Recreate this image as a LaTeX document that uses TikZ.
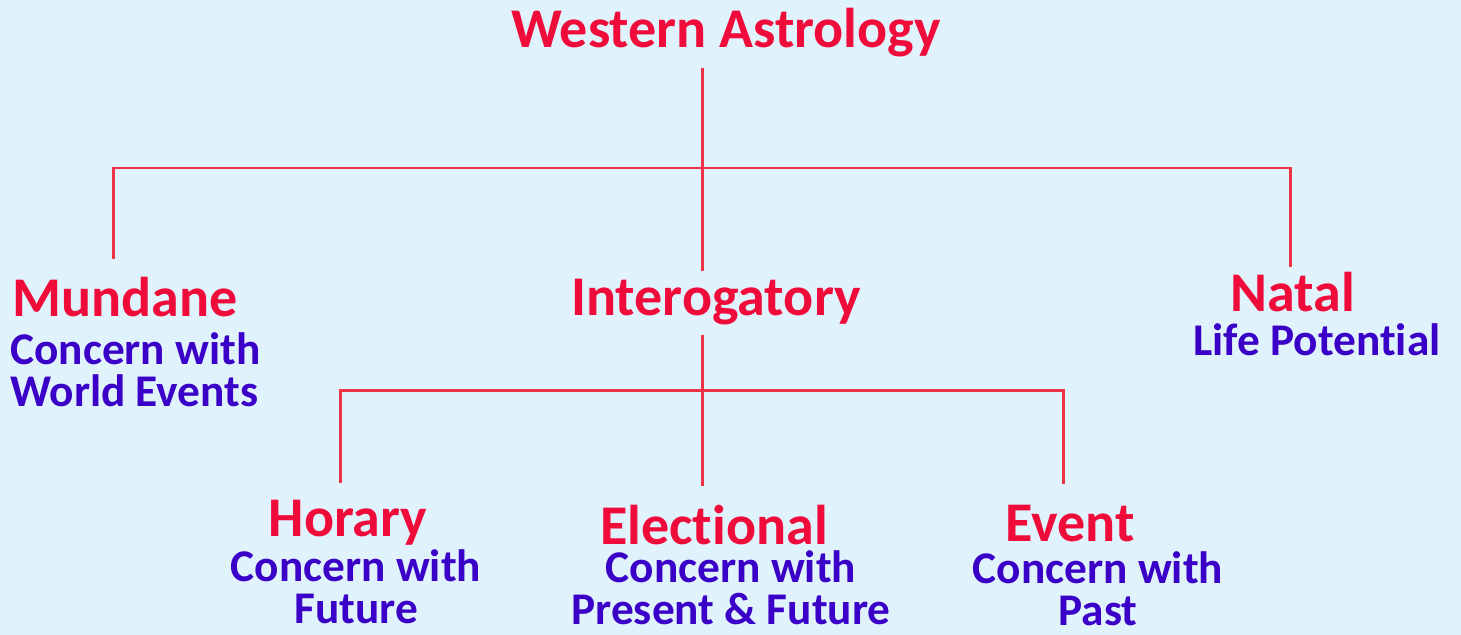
\documentclass[tikz,border=0pt]{standalone}
\usepackage{fontspec}
\setmainfont{Carlito}[Ligatures=NoCommon]
\usepackage{tikz}
\usetikzlibrary{positioning}
\definecolor{bgblue}{HTML}{E0F2FC}
\definecolor{headred}{HTML}{F00C3A}
\definecolor{linered}{HTML}{EE3344}
\definecolor{textblue}{HTML}{3A00C8}

\tikzset{
  title/.style={font=\bfseries\fontsize{31.9}{36}\selectfont, text=headred,
    text height=0.72cm, text depth=0.24cm, inner sep=0.16cm, anchor=base},
  desc/.style={font=\bfseries\fontsize{25.8}{23.9}\selectfont, text=textblue,
    inner sep=0pt, anchor=base, align=center},
  link/.style={draw=linered, line width=0.06cm}
}

\begin{document}
\begin{tikzpicture}[x=0.02cm, y=-0.02cm]
      % Background
      \fill[bgblue] (0,0) rectangle (1461,635);
      \useasboundingbox (0,0) rectangle (1461,635);

      % Top level
      \node[title] (root) at (726,48) {Western Astrology};

      % Second level (desc nodes sit on their last line)
      \node[title, anchor=base west] (mun) at (4,316) {Mundane};
      \node[desc, anchor=base west, align=left] (munDesc) at (10,406) {Concern with\\World Events};
      \node[title] (inter) at (716,315) {Interogatory};
      \node[title] (nat) at (1293,311) {Natal};
      \node[desc] (natDesc) at (1317,355) {Life Potential};

      % Third level
      \node[title] (hor) at (348,536) {Horary};
      \node[desc] (horDesc) at (356,623) {Concern with\\Future};
      \node[title] (ele) at (714,544) {Electional};
      \node[desc] (eleDesc) at (731,624) {Concern with\\Present \& Future};
      \node[title] (evt) at (1070,541) {Event};
      \node[desc] (evtDesc) at (1098,625) {Concern with\\Past};

      % Connectors: first split
      \coordinate (hub) at (702,168);
      \draw[link] (root.south -| hub) -- (hub |- inter.north);
      \draw[link] ([shift={(-11,-13)}]mun.north) |- (hub) -| ([shift={(-3,0)}]nat.north);

      % Connectors: second split
      \coordinate (subHub) at (702,390);
      \draw[link] (inter.south -| subHub) -- ([shift={(-12,-14)}]ele.north);
      \draw[link] ([shift={(-8,-9)}]hor.north) |- (subHub) -| ([shift={(-7,-13)}]evt.north);
\end{tikzpicture}
\end{document}
